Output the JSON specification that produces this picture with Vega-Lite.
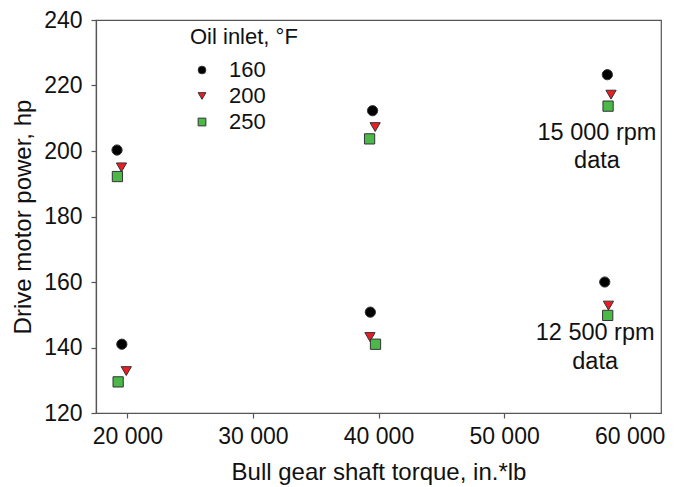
{
  "$schema": "https://vega.github.io/schema/vega-lite/v6.json",
  "width": 565,
  "height": 393,
  "autosize": "none",
  "padding": {"left": 96, "top": 20, "right": 18, "bottom": 74},
  "background": "white",
  "config": {
    "font": "Liberation Sans",
    "view": {"stroke": "#555", "strokeWidth": 1.2},
    "axis": {
      "grid": false,
      "domainColor": "#555",
      "domainWidth": 1.2,
      "tickColor": "#555",
      "tickWidth": 1.2,
      "tickSize": 5,
      "labelFont": "Liberation Sans",
      "labelFontSize": 23,
      "labelColor": "#111",
      "titleFont": "Liberation Sans",
      "titleFontSize": 24,
      "titleFontWeight": "normal",
      "titleColor": "#111"
    },
    "legend": {
      "orient": "none",
      "legendX": 94,
      "legendY": 7,
      "padding": 0,
      "titleFont": "Liberation Sans",
      "titleFontSize": 22,
      "titleFontWeight": "normal",
      "titleColor": "#111",
      "titlePadding": 10,
      "labelFont": "Liberation Sans",
      "labelFontSize": 22,
      "labelColor": "#111",
      "labelOffset": 16,
      "symbolOffset": 1,
      "rowPadding": 4,
      "symbolSize": 60,
      "symbolStrokeColor": "#333",
      "symbolStrokeWidth": 1
    }
  },
  "layer": [
    {
      "data": {
        "values": [
          {"torque": 19175, "power": 200.3, "oil": "160"},
          {"torque": 19529, "power": 195.0, "oil": "200"},
          {"torque": 19205, "power": 192.2, "oil": "250"},
          {"torque": 19558, "power": 141.0, "oil": "160"},
          {"torque": 19912, "power": 132.8, "oil": "200"},
          {"torque": 19264, "power": 129.5, "oil": "250"},
          {"torque": 39527, "power": 212.3, "oil": "160"},
          {"torque": 39733, "power": 207.3, "oil": "200"},
          {"torque": 39290, "power": 203.7, "oil": "250"},
          {"torque": 39349, "power": 150.8, "oil": "160"},
          {"torque": 39320, "power": 143.2, "oil": "200"},
          {"torque": 39762, "power": 141.0, "oil": "250"},
          {"torque": 58226, "power": 223.3, "oil": "160"},
          {"torque": 58520, "power": 217.2, "oil": "200"},
          {"torque": 58285, "power": 213.7, "oil": "250"},
          {"torque": 58020, "power": 160.0, "oil": "160"},
          {"torque": 58315, "power": 152.8, "oil": "200"},
          {"torque": 58256, "power": 149.8, "oil": "250"}
        ]
      },
      "mark": {"type": "point", "filled": true, "opacity": 1, "stroke": "#333", "strokeWidth": 1, "size": 105},
      "encoding": {
        "x": {
          "field": "torque",
          "type": "quantitative",
          "scale": {"domain": [17500, 62500], "nice": false, "zero": false},
          "axis": {
            "values": [20000, 30000, 40000, 50000, 60000],
            "labelExpr": "replace(format(datum.value, ','), ',', ' ')",
            "labelPadding": 7,
            "title": "Bull gear shaft torque, in.*lb",
            "titlePadding": 12
          }
        },
        "y": {
          "field": "power",
          "type": "quantitative",
          "scale": {"domain": [120, 240], "nice": false, "zero": false},
          "axis": {
            "values": [120, 140, 160, 180, 200, 220, 240],
            "labelPadding": 9,
            "title": "Drive motor power, hp",
            "titlePadding": 8
          }
        },
        "color": {
          "field": "oil",
          "type": "nominal",
          "scale": {"domain": ["160", "200", "250"], "range": ["#000000", "#ec1c24", "#4cb848"]},
          "legend": {"title": "Oil inlet, °F"}
        },
        "shape": {
          "field": "oil",
          "type": "nominal",
          "scale": {"domain": ["160", "200", "250"], "range": ["circle", "triangle-down", "square"]},
          "legend": {"title": "Oil inlet, °F"}
        }
      }
    },
    {
      "data": {
        "values": [
          {"torque": 57400, "power": 205.6, "note": "15 000 rpm"},
          {"torque": 57400, "power": 196.8, "note": "data"},
          {"torque": 57255, "power": 144.5, "note": "12 500 rpm"},
          {"torque": 57255, "power": 135.6, "note": "data"}
        ]
      },
      "mark": {"type": "text", "align": "center", "baseline": "middle", "fontSize": 23.5, "font": "Liberation Sans", "color": "#111"},
      "encoding": {
        "x": {"field": "torque", "type": "quantitative"},
        "y": {"field": "power", "type": "quantitative"},
        "text": {"field": "note", "type": "nominal"}
      }
    }
  ]
}
